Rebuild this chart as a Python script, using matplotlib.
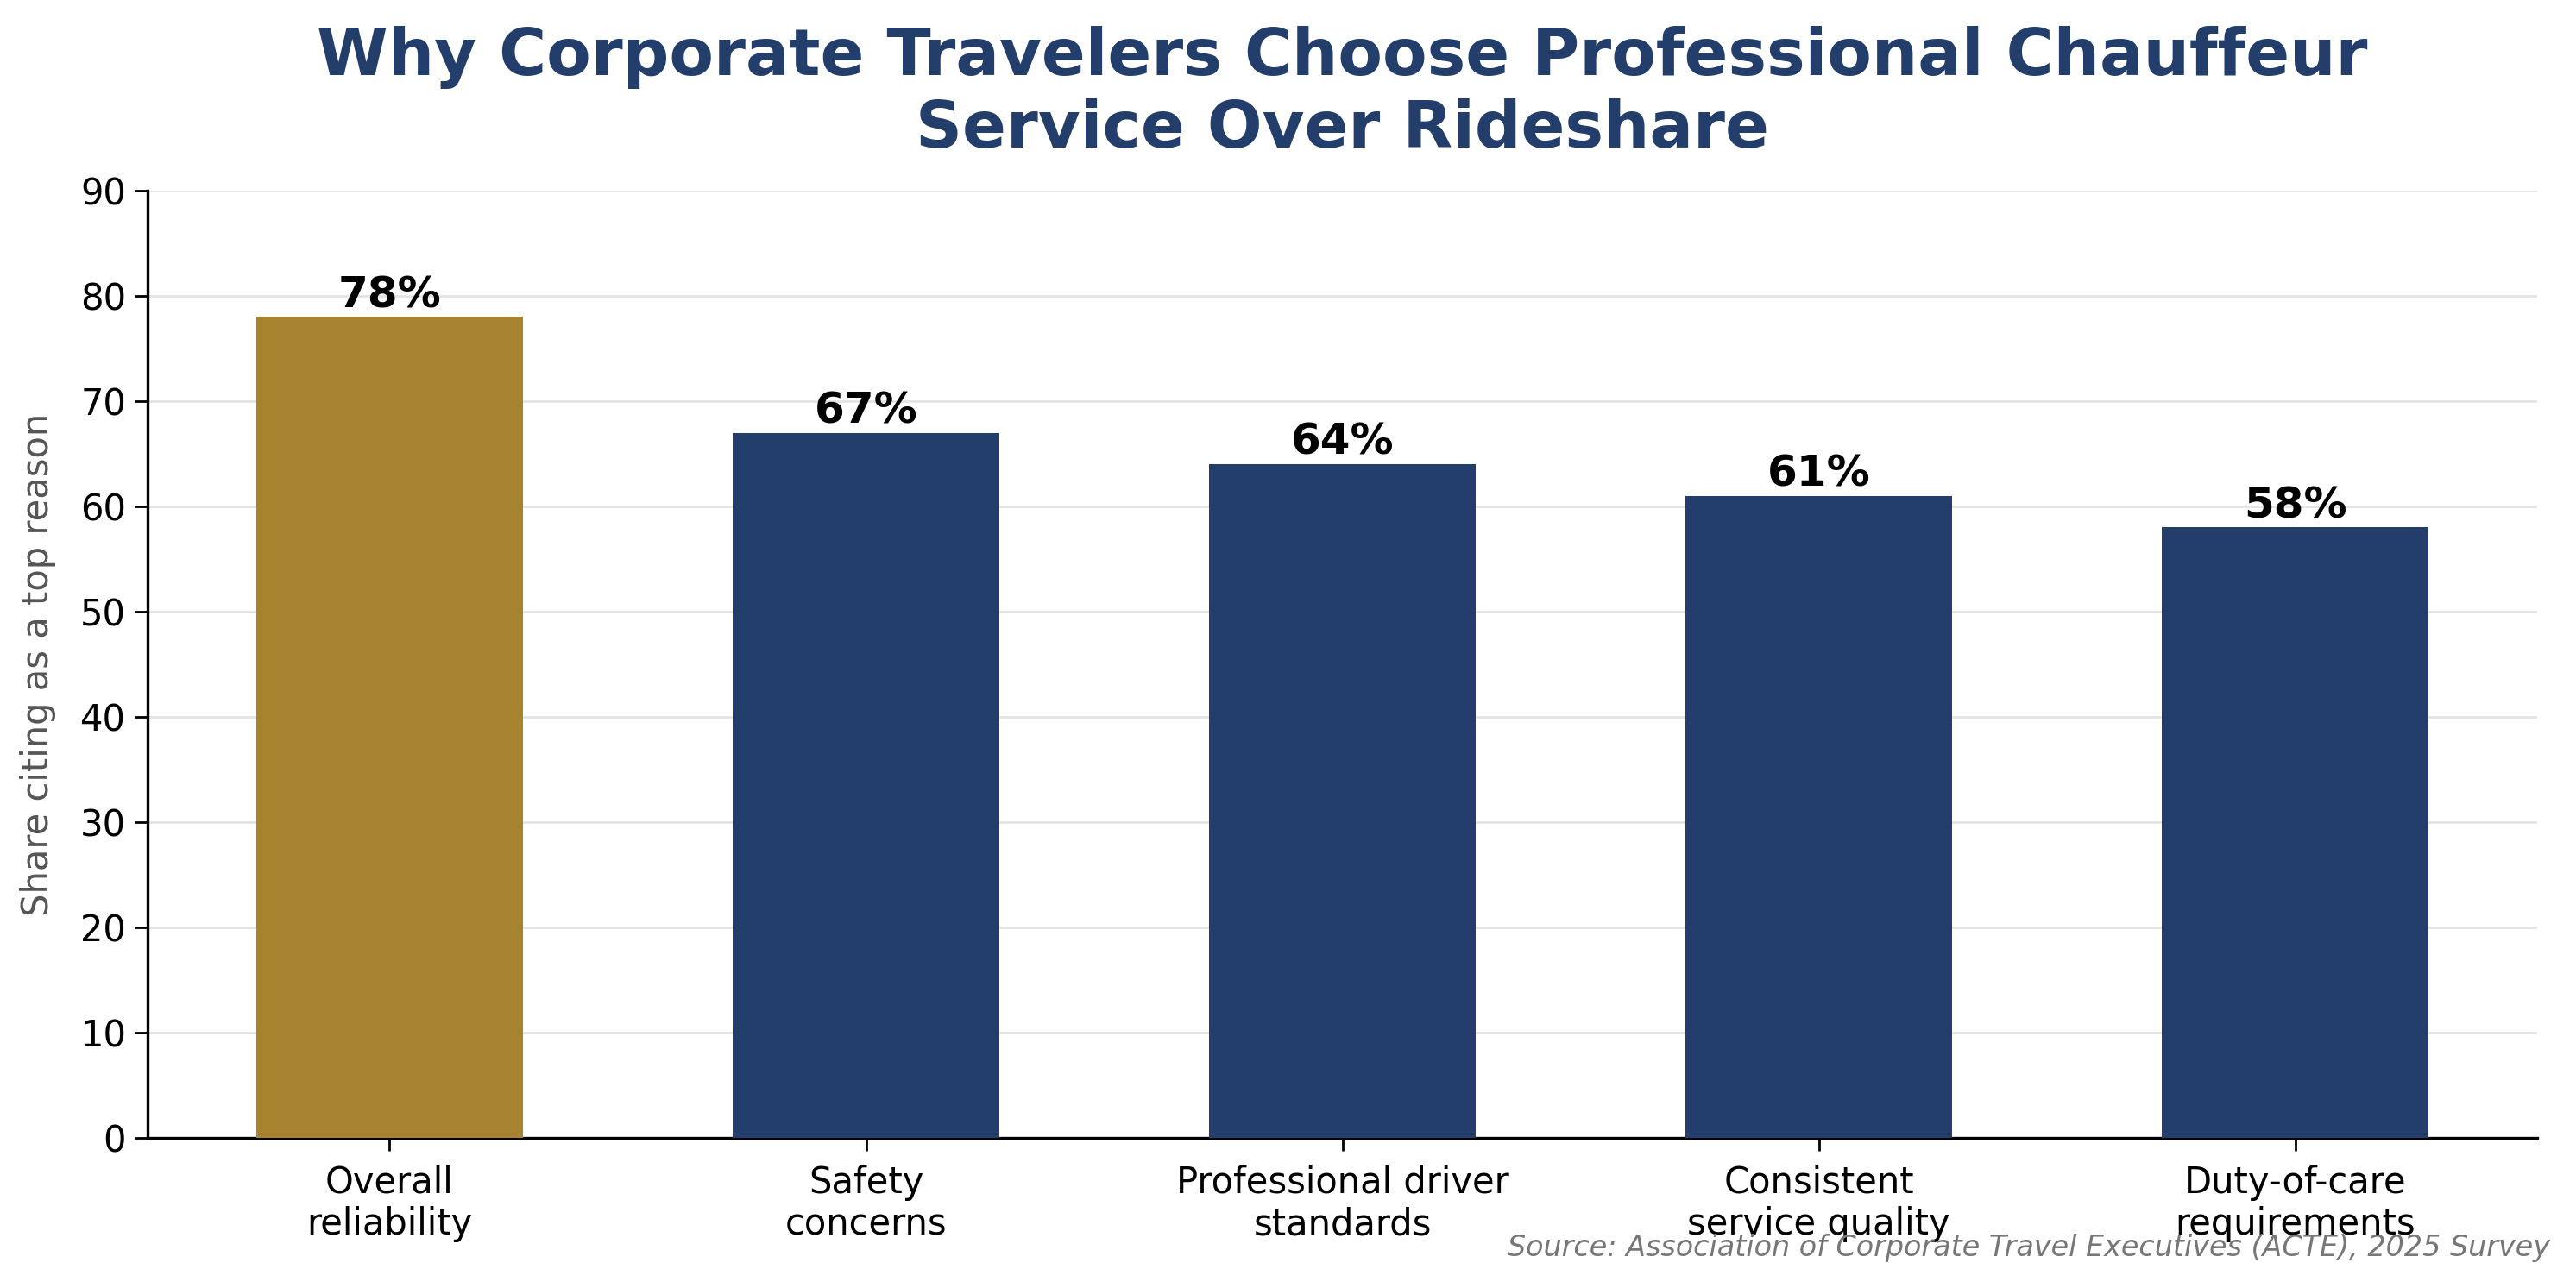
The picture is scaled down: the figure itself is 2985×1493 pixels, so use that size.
import matplotlib.pyplot as plt
import numpy as np

# data
reasons = ["Overall\nreliability", "Safety\nconcerns", "Professional driver\nstandards",
           "Consistent\nservice quality", "Duty-of-care\nrequirements"]
shares = [78, 67, 64, 61, 58]
bar_colors = ["#A8832F", "#233E6B", "#233E6B", "#233E6B", "#233E6B"]
yticks = [0, 10, 20, 30, 40, 50, 60, 70, 80, 90]

navy = "#233E6B"

fig = plt.figure(figsize=(14.925, 7.465), dpi=200, facecolor="w")
ax = fig.add_axes([0.0573, 0.1165, 0.9277, 0.7355])

x = np.arange(len(reasons))
ax.bar(x, shares, width=0.56, color=bar_colors, zorder=3)

for xi, v in zip(x, shares):
    ax.text(xi, v + 0.1, f"{v}%", ha="center", va="bottom",
            fontsize=18, fontweight="bold", color="black", zorder=4)

ax.set_ylim(0, 90)
ax.set_yticks(yticks)
ax.set_xticks(x)
ax.set_xticklabels(reasons, fontsize=15)
ax.tick_params(axis="y", labelsize=15, length=5.5, width=1)
ax.tick_params(axis="x", length=5.5, width=1, pad=5.5)

ax.yaxis.grid(True, color="#e3e3e3", linewidth=1, zorder=0)
ax.set_axisbelow(True)
for s in ["top", "right"]:
    ax.spines[s].set_visible(False)
ax.spines["left"].set_linewidth(1.2)
ax.spines["bottom"].set_linewidth(1.2)

ax.set_ylabel("Share citing as a top reason", fontsize=15, color="#555555", labelpad=10)
ax.set_title("Why Corporate Travelers Choose Professional Chauffeur\nService Over Rideshare",
             fontsize=27, fontweight="bold", color=navy, pad=18)

# source note sits low, over the tick labels as in the original
fig.text(0.99, 0.031, "Source: Association of Corporate Travel Executives (ACTE), 2025 Survey",
         ha="right", va="center", fontsize=12, style="italic", color="#777777")

fig.savefig("out.png", dpi=200, facecolor="w")
